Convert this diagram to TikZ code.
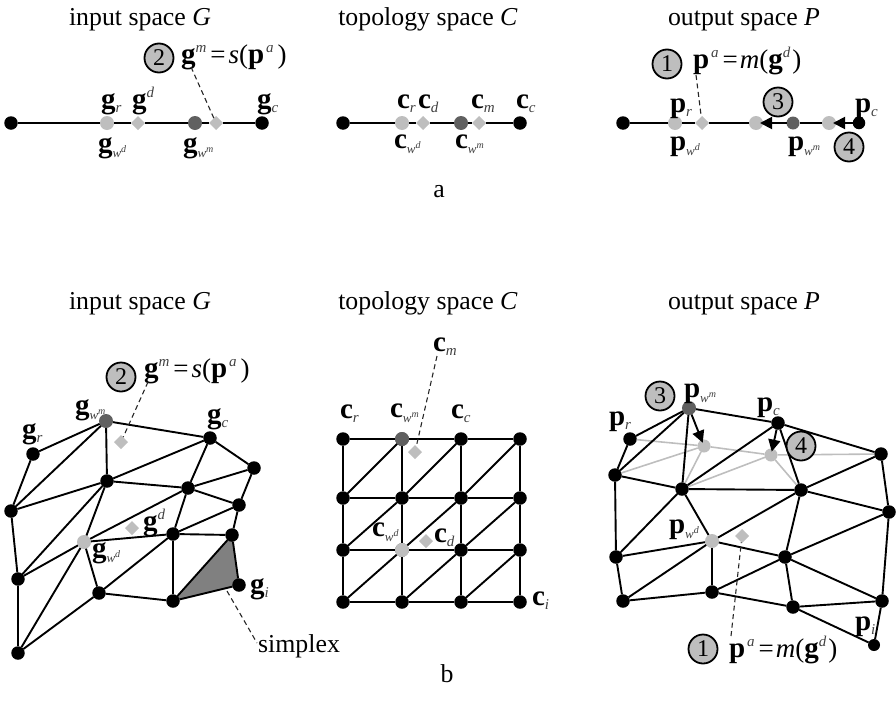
\documentclass[tikz,border=0pt]{standalone}
\usepackage{fontspec}
\setmainfont{Liberation Serif}
\usetikzlibrary{shapes.geometric,arrows.meta,backgrounds}
\definecolor{lgray}{HTML}{BEBEBE}
\definecolor{dgray}{HTML}{606060}
\definecolor{subc}{HTML}{404040}
\newcommand\bsym[1]{{\fontsize{29}{29}\selectfont\bfseries #1}}
\newcommand\subs[1]{\raisebox{-4pt}{\fontsize{15}{15}\selectfont\itshape\color{subc}#1}}
\newcommand\subw[1]{\raisebox{-5pt}{\fontsize{13}{13}\selectfont\itshape\color{subc}w\raisebox{5pt}{\fontsize{10}{10}\selectfont #1}}}
\newcommand\sups[1]{\raisebox{11pt}{\fontsize{15}{15}\selectfont\itshape\color{subc}#1}}
\newcommand\opr[1]{{\fontsize{27}{27}\selectfont #1}}
\newcommand\opi[1]{{\fontsize{27}{27}\selectfont\itshape #1}}
\newcommand\fgs{\bsym{g}\sups{m}\hspace{4pt}\opr{=}\hspace{3pt}\opi{s}\opr{(}\bsym{p}\hspace{2pt}\sups{a}\hspace{4pt}\opr{)}}
\newcommand\fpm{\bsym{p}\hspace{2pt}\sups{a}\hspace{4pt}\opr{=}\hspace{2pt}\opi{m}\opr{(}\bsym{g}\sups{d}\hspace{2pt}\opr{)}}
\tikzset{
  mdot/.style={circle,fill=black,minimum size=13.5pt,inner sep=0pt,outer sep=0pt},
  lite/.style={circle,fill=lgray,minimum size=14pt,inner sep=0pt,outer sep=0pt},
  darkdot/.style={circle,fill=dgray,minimum size=14pt,inner sep=0pt,outer sep=0pt},
  dia/.style={diamond,fill=lgray,minimum size=14pt,inner sep=0pt,outer sep=0pt},
  medge/.style={line width=1.9pt,black},
  gedge/.style={line width=1.6pt,lgray},
  leader/.style={line width=1.1pt,dash pattern=on 5pt off 3.5pt,black!85},
  arr/.style={line width=1.9pt,black,-{Triangle[length=12pt,width=12pt]}},
  num/.style={circle,draw=black,line width=1.8pt,fill=lgray,minimum size=29pt,inner sep=0pt,font=\fontsize{24}{24}\selectfont},
  lbl/.style={anchor=base west,inner sep=0pt,outer sep=0pt},
  ttl/.style={anchor=base,inner sep=0pt,font=\fontsize{25.8}{25.8}\selectfont},
}
\begin{document}
\begin{tikzpicture}[x=1pt,y=-1pt]
\useasboundingbox (0,0) rectangle (896,715);
% titles
\node[ttl] (t1) at (140,25) {input space \textit{G}};
\node[ttl] (t2) at (428,25) {topology space \textit{C}};
\node[ttl] (t3) at (744,25) {output space \textit{P}};
\node[ttl] (t4) at (140,309) {input space \textit{G}};
\node[ttl] (t5) at (428,309) {topology space \textit{C}};
\node[ttl] (t6) at (744,309) {output space \textit{P}};
\node[ttl] (cap1) at (439,197) {a};
\node[ttl] (cap2) at (447,682) {b};

% ---- top row, input space
\node[mdot] (ta1) at (11,123) {};
\node[lite] (ta2) at (107,123) {};
\node[dia] (ta3) at (138,123) {};
\node[darkdot] (ta4) at (195,123) {};
\node[dia] (ta5) at (216,123) {};
\node[mdot] (ta6) at (262,123) {};
\foreach \a/\b in {ta1/ta2,ta2/ta3,ta3/ta4,ta4/ta5,ta5/ta6} \draw[medge] (\a)--(\b);
\node[lbl] (l1) at (101,108) {\bsym{g}\subs{r}};
\node[lbl] (l2) at (132,108) {\bsym{g}\sups{d}};
\node[lbl] (l3) at (257,108) {\bsym{g}\subs{c}};
\node[lbl] (l4) at (98,152) {\bsym{g}\subw{d}};
\node[lbl] (l5) at (183,152) {\bsym{g}\subw{m}};
\node[num] (n2a) at (159,58) {2};
\node[lbl] (f1) at (181,63) {\fgs};
\coordinate (f1e) at (191,67);
\draw[leader] (f1e)--(ta5);

% ---- top row, topology space
\node[mdot] (tb1) at (343,123) {};
\node[lite] (tb2) at (402,123) {};
\node[dia] (tb3) at (423,123) {};
\node[darkdot] (tb4) at (461,123) {};
\node[dia] (tb5) at (479,123) {};
\node[mdot] (tb6) at (520,123) {};
\foreach \a/\b in {tb1/tb2,tb2/tb3,tb3/tb4,tb4/tb5,tb5/tb6} \draw[medge] (\a)--(\b);
\node[lbl] (l6) at (397,108) {\bsym{c}\subs{r}};
\node[lbl] (l7) at (418,108) {\bsym{c}\subs{d}};
\node[lbl] (l8) at (471,108) {\bsym{c}\subs{m}};
\node[lbl] (l9) at (516,108) {\bsym{c}\subs{c}};
\node[lbl] (l10) at (394,148) {\bsym{c}\subw{d}};
\node[lbl] (l11) at (455,148) {\bsym{c}\subw{m}};

% ---- top row, output space
\node[mdot] (tc1) at (623,123) {};
\node[lite] (tc2) at (675,123) {};
\node[dia] (tc3) at (702,123) {};
\node[lite] (tc4) at (756,123) {};
\node[darkdot,minimum size=13pt] (tc5) at (793,123) {};
\node[lite] (tc6) at (829,123) {};
\node[mdot,minimum size=12.5pt] (tc7) at (859,123) {};
\foreach \a/\b in {tc1/tc2,tc2/tc3,tc3/tc4} \draw[medge] (\a)--(\b);
\draw[arr,shorten >=-3pt] (tc5)--(tc4);
\draw[medge] (tc5)--(tc6);
\draw[arr,shorten >=-3pt] (tc7)--(tc6);
\node[lbl] (l12) at (670,112) {\bsym{p}\subs{r}};
\node[lbl] (l13) at (855,112) {\bsym{p}\subs{c}};
\node[lbl] (l14) at (670,150) {\bsym{p}\subw{d}};
\node[lbl] (l15) at (788,150) {\bsym{p}\subw{m}};
\node[num] (n1a) at (667,64) {1};
\node[num] (n3a) at (778,102) {3};
\node[num] (n4a) at (849,147) {4};
\node[lbl] (f2) at (693,68) {\fpm};
\coordinate (f2e) at (696,75);
\draw[leader] (f2e)--(tc3);

% ---- bottom, input mesh
\foreach \n/\x/\y in {gr/33/454,gc/210/438,ga/254/468,gb/107/481,gd/188/488,ge/239/505,gf/11/511,gh/173/534,gi/232/535,gj/18/579,gk/239/585,gl/99/593,gm/173/601,gn/18/653}
  \node[mdot] (\n) at (\x,\y) {};
\node[darkdot] (gw) at (106,421) {};
\node[lite] (gv) at (84,542) {};
\foreach \a/\b in {gw/gr,gw/gc,gw/gb,gw/gf,gr/gf,gf/gb,gf/gj,gb/gc,gb/gd,gb/gv,gb/gj,gc/gd,gc/ga,ga/gd,ga/ge,gd/ge,gd/gh,gd/gv,ge/gh,ge/gi,gh/gi,gh/gv,gh/gl,gh/gm,gi/gm,gi/gk,gk/gm,gv/gj,gv/gn,gv/gl,gj/gn,gl/gn,gl/gm}
  \draw[medge] (\a)--(\b);
\begin{scope}[on background layer]
  \fill[fill=black!50] (gi.center)--(gk.center)--(gm.center)--cycle;
\end{scope}
\node[dia] (gdm) at (121,442) {};
\node[dia] (gdd) at (132,528) {};
\node[lbl] (l16) at (75,414) {\bsym{g}\subw{m}};
\node[lbl] (l17) at (22,438) {\bsym{g}\subs{r}};
\node[lbl] (l18) at (207,423) {\bsym{g}\subs{c}};
\node[lbl] (l19) at (143,530) {\bsym{g}\sups{d}};
\node[lbl] (l20) at (92,557) {\bsym{g}\subw{d}};
\node[lbl] (l21) at (250,593) {\bsym{g}\subs{i}};
\node[num] (n2b) at (121,377) {2};
\node[lbl] (f3) at (144,377) {\fgs};
\coordinate (f3e) at (148,382);
\draw[leader] (f3e)--(gdm);
\node[anchor=base west,inner sep=0pt,font=\fontsize{25.8}{25.8}\selectfont] (sx) at (258,652) {simplex};
\coordinate (sxa) at (227,591);
\coordinate (sxb) at (257,643);
\draw[leader] (sxa)--(sxb);

% ---- bottom, topology grid
\foreach \i/\x in {1/343,2/402,3/461,4/520}
  \foreach \j/\y in {1/439,2/498,3/550,4/602}
    \node[mdot] (c\i\j) at (\x,\y) {};
\foreach \a/\b in {c11/c21,c21/c31,c31/c41,c12/c22,c22/c32,c32/c42,c13/c23,c23/c33,c33/c43,c14/c24,c24/c34,c34/c44,
  c11/c12,c12/c13,c13/c14,c21/c22,c22/c23,c23/c24,c31/c32,c32/c33,c33/c34,c41/c42,c42/c43,c43/c44,
  c12/c21,c22/c31,c32/c41,c13/c22,c23/c32,c33/c42,c14/c23,c24/c33,c34/c43}
  \draw[medge] (\a)--(\b);
\node[darkdot] (cw) at (402,439) {};
\node[lite] (cv) at (402,550) {};
\node[dia] (cdm) at (415,452) {};
\node[dia] (cdd) at (426,541) {};
\node[lbl] (l22) at (340,418) {\bsym{c}\subs{r}};
\node[lbl] (l23) at (390,417) {\bsym{c}\subw{m}};
\node[lbl] (l24) at (451,418) {\bsym{c}\subs{c}};
\node[lbl] (l25) at (433,351) {\bsym{c}\subs{m}};
\node[lbl] (l26) at (372,536) {\bsym{c}\subw{d}};
\node[lbl] (l27) at (434,542) {\bsym{c}\subs{d}};
\node[lbl] (l28) at (532,605) {\bsym{c}\subs{i}};
\coordinate (cme) at (437,356);
\draw[leader] (cme)--(cdm);

% ---- bottom, output mesh
\foreach \n/\x/\y in {pr/630/439,pc/778/423,pa/881/454,pb/615/475,pd/682/489,pe/801/490,pf/889/512,pg/616/557,ph/785/557,pj/623/601,pk/712/592,pl/793/607,pm/882/601}
  \node[mdot] (\n) at (\x,\y) {};
\node[mdot,minimum size=12pt] (pi) at (874,645) {};
\node[darkdot] (pw) at (689,408) {};
\node[lite] (pv) at (712,541) {};
\node[lite,minimum size=13pt] (px) at (704,446) {};
\node[lite,minimum size=13pt] (py) at (771,455) {};
\foreach \a/\b in {pr/px,px/py,py/pa,pb/px,pd/px,pd/py,py/pe}
  \draw[gedge] (\a)--(\b);
\foreach \a/\b in {pw/pr,pw/pb,pw/pd,pw/pc,pc/pa,pc/pd,pc/pe,pr/pb,pb/pd,pb/pg,pd/pe,pd/pg,pd/pv,pe/pa,pe/pf,pe/pv,pe/ph,pa/pf,pf/pm,pf/ph,pv/pg,pv/pj,pv/pk,pv/ph,pg/pj,pj/pk,pk/ph,pk/pl,ph/pl,ph/pm,pl/pm,pl/pi,pm/pi}
  \draw[medge] (\a)--(\b);
\draw[arr,shorten >=-3pt] (pw)--(px);
\draw[arr,shorten >=-3pt] (pc)--(py);
\node[dia] (pdd) at (742,536) {};
\node[num] (n3b) at (660,396) {3};
\node[num] (n4b) at (801,446) {4};
\node[num] (n1b) at (703,649) {1};
\node[lbl] (l29) at (609,425) {\bsym{p}\subs{r}};
\node[lbl] (l30) at (684,397) {\bsym{p}\subw{m}};
\node[lbl] (l31) at (757,411) {\bsym{p}\subs{c}};
\node[lbl] (l32) at (669,533) {\bsym{p}\subw{d}};
\node[lbl] (l33) at (855,630) {\bsym{p}\subs{i}};
\node[lbl] (f4) at (729,657) {\fpm};
\coordinate (f4e) at (731,636);
\draw[leader] (f4e)--(pdd);
\end{tikzpicture}
\end{document}
